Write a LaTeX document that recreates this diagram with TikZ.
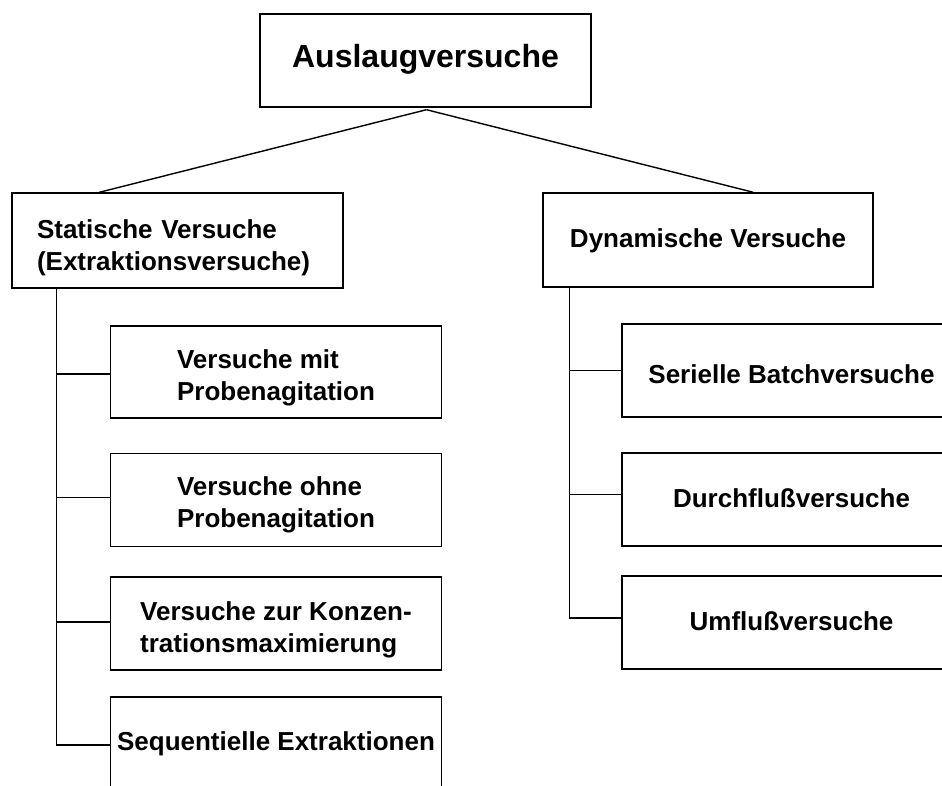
\documentclass[tikz,border=0pt]{standalone}
\usepackage{fontspec}
\setmainfont{Liberation Sans}
\newcommand\myH[1]{\rule{0pt}{#1pt}}
\newcommand\myD[1]{\rule[-#1pt]{0pt}{#1pt}}
\begin{document}
\begin{tikzpicture}[x=1pt,y=-1pt,
  box/.style={draw, line width=1.4pt, inner sep=0pt, align=left,
    font=\fontsize{26}{32}\selectfont\bfseries, minimum height=93pt},
  lbox/.style={box, minimum width=331pt},
  rbox/.style={box, minimum width=339pt},
  conn/.style={line width=1.4pt}]
\useasboundingbox (0,0) rectangle (942,785);
\clip (0,0) rectangle (942,785);
\fill[white] (0,0) rectangle (942,785);

\node[box, minimum width=331pt, font=\fontsize{32}{38}\selectfont\bfseries] (top) at (425.5,60.5) {\myH{24}Auslaugversuche\myD{11}};

\node[box, minimum width=331pt, minimum height=95pt, text width=281pt] (stat) at (177.5,240.5)
  {\myH{34}Statische Versuche\\(Extraktionsversuche)\myD{7}};
\node[box, minimum width=330pt, minimum height=94pt] (dyn) at (708,240)
  {\myH{21}Dynamische Versuche\myD{7}};

\node[lbox, minimum height=92pt] (L1) at (276,372) {\myH{31}Versuche mit\\Probenagitation\myD{7}};
\node[lbox] (L2) at (276,499.7) {\myH{30}Versuche ohne\\Probenagitation\myD{7}};
\node[lbox] (L3) at (276,623.5) {\myH{32}Versuche zur Konzen-\\trationsmaximierung\myD{7}};
\node[lbox] (L4) at (276,743.5) {\myH{22}Sequentielle Extraktionen\myD{9}};

\node[rbox] (R1) at (791.5,370.5) {\myH{32}Serielle Batchversuche\myD{7}};
\node[rbox] (R2) at (791.5,499.5) {\myH{22}Durchflußversuche\myD{7}};
\node[rbox] (R3) at (791.5,622.5) {\myH{22}Umflußversuche\myD{7}};

\coordinate (apex) at ([xshift=1pt,yshift=-2pt]top.south);
\draw[conn] (apex) -- ([xshift=88pt]stat.north west);
\draw[conn] (apex) -- ([xshift=211pt]dyn.north west);

\coordinate (lt) at ([xshift=45pt]stat.south west);
\draw[conn] (lt) |- ([yshift=-1.5pt]L4.west);
\draw[conn] ([yshift=-2pt]L1.west) -- ([yshift=-2pt]L1.west -| lt);
\draw[conn] ([yshift=2pt]L2.west) -- ([yshift=2pt]L2.west -| lt);
\draw[conn] ([yshift=1.5pt]L3.west) -- ([yshift=1.5pt]L3.west -| lt);

\coordinate (rt) at ([xshift=27pt]dyn.south west);
\draw[conn] (rt) |- ([yshift=4.5pt]R3.west);
\draw[conn] (R1.west) -- (R1.west -| rt);
\draw[conn] ([yshift=5pt]R2.west) -- ([yshift=5pt]R2.west -| rt);
\end{tikzpicture}
\end{document}
